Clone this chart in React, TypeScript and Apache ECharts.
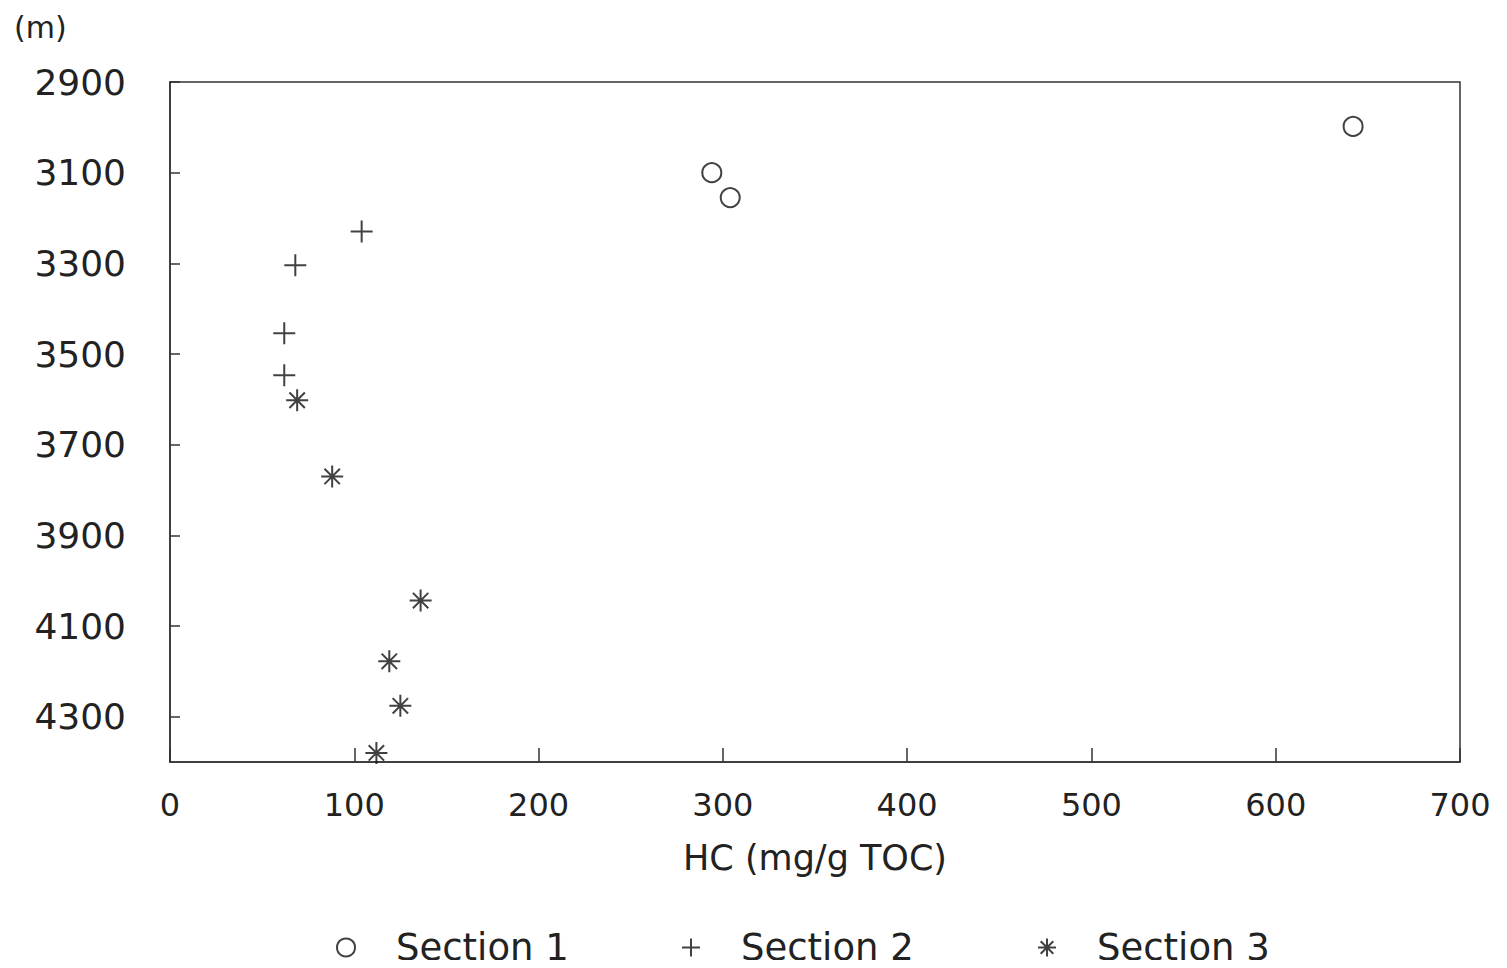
import React, { useEffect, useRef } from "react";
import * as echarts from "echarts";

const section1: [number, number][] = [
  [294, 3100],
  [304, 3155],
  [642, 2998],
];
const section2: [number, number][] = [
  [104, 3230],
  [68, 3304],
  [62, 3454],
  [62, 3547],
];
const section3: [number, number][] = [
  [69, 3602],
  [88, 3770],
  [136, 4044],
  [119, 4178],
  [125, 4276],
  [112, 4380],
];
const seriesNames = ["Section 1", "Section 2", "Section 3"];

const PLUS = "path://M0,-10L0,10M-10,0L10,0";
const STAR = "path://M0,-10L0,10M-10,0L10,0M-7,-7L7,7M-7,7L7,-7";

const FONT = "DejaVu Sans";

export default function App() {
  const ref = useRef<HTMLDivElement>(null);
  useEffect(() => {
    if (!ref.current) return;
    const chart = echarts.init(ref.current, null, { renderer: "svg" });
    const legendBase = {
      top: 924,
      itemWidth: 18,
      itemHeight: 18,
      textStyle: { fontFamily: FONT, fontSize: 37, color: "#222", padding: [0, 0, 0, 36] },
    };
    chart.setOption({
      animation: false,
      backgroundColor: "#fff",
      grid: {
        left: 170,
        right: 47,
        top: 82,
        bottom: 206,
        show: true,
        borderColor: "#333",
        borderWidth: 1.5,
      },
      graphic: [
        {
          type: "text",
          left: 14,
          top: 12,
          style: { text: "(m)", fontFamily: FONT, fontSize: 30, fill: "#222" },
        },
      ],
      legend: [
        { ...legendBase, left: 331, data: [seriesNames[0]] },
        { ...legendBase, left: 676, data: [seriesNames[1]] },
        { ...legendBase, left: 1032, data: [seriesNames[2]] },
      ],
      xAxis: {
        type: "value",
        min: 0,
        max: 700,
        interval: 100,
        name: "HC (mg/g TOC)",
        nameLocation: "middle",
        nameGap: 78,
        nameTextStyle: { fontFamily: FONT, fontSize: 35, color: "#222" },
        axisLine: { show: true, lineStyle: { color: "#333", width: 1.5 } },
        axisTick: { show: true, inside: true, length: 14, lineStyle: { color: "#333", width: 1.5 } },
        axisLabel: { fontFamily: FONT, fontSize: 32, color: "#222", margin: 27 },
        splitLine: { show: false },
      },
      yAxis: {
        type: "value",
        inverse: true,
        min: 2900,
        max: 4400,
        interval: 200,
        axisLine: { show: true, lineStyle: { color: "#333", width: 1.5 } },
        axisTick: { show: true, inside: true, length: 10, lineStyle: { color: "#333", width: 1.5 } },
        axisLabel: {
          fontFamily: FONT,
          fontSize: 36,
          color: "#222",
          margin: 44,
          showMaxLabel: false,
          formatter: (v: number) => String(v),
        },
        splitLine: { show: false },
      },
      series: [
        {
          name: seriesNames[0],
          type: "scatter",
          data: section1,
          symbol: "emptyCircle",
          symbolSize: 19,
          itemStyle: { color: "#111", borderColor: "#111", borderWidth: 2 },
        },
        {
          name: seriesNames[1],
          type: "scatter",
          data: section2,
          symbol: PLUS,
          symbolSize: 22,
          itemStyle: { color: "transparent", borderColor: "#111", borderWidth: 2 },
        },
        {
          name: seriesNames[2],
          type: "scatter",
          data: section3,
          symbol: STAR,
          symbolSize: 22,
          itemStyle: { color: "transparent", borderColor: "#111", borderWidth: 2 },
        },
      ],
    });
    return () => chart.dispose();
  }, []);
  return <div ref={ref} style={{ width: 1507, height: 968, margin: -8 }} />;
}
